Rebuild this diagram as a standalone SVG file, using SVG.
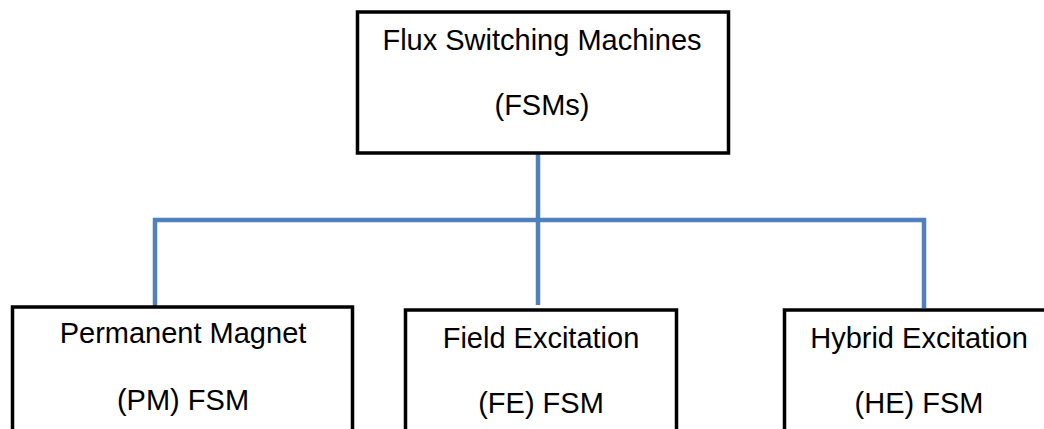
<svg xmlns="http://www.w3.org/2000/svg" width="1044" height="429" viewBox="0 0 1044 429">
<style>
.box{fill:#fff;stroke:#000;stroke-width:3.5}
.lbl{font-family:"Liberation Sans",Arial,sans-serif;font-size:29px;fill:#000;text-anchor:middle}
.con{fill:none;stroke:#4f81bd;stroke-width:4.5}
</style>
<rect width="1044" height="429" fill="#fff"/>
<g id="connectors">
<line class="con" x1="538" y1="153" x2="538" y2="305"/>
<polyline class="con" points="155,307 155,220 924,220 924,308"/>
</g>
<g id="node-fsm">
<rect class="box" x="357.5" y="12" width="371" height="141"/>
<text class="lbl" x="542" y="50">Flux Switching Machines</text>
<text class="lbl" x="542" y="115">(FSMs)</text>
</g>
<g id="node-pm">
<rect class="box" x="12.5" y="307" width="340" height="140"/>
<text class="lbl" x="183" y="343">Permanent Magnet</text>
<text class="lbl" x="183" y="410">(PM) FSM</text>
</g>
<g id="node-fe">
<rect class="box" x="405.5" y="310" width="271" height="140"/>
<text class="lbl" x="541" y="348">Field Excitation</text>
<text class="lbl" x="541" y="413">(FE) FSM</text>
</g>
<g id="node-he">
<rect class="box" x="784.5" y="310" width="280" height="140"/>
<text class="lbl" x="919" y="348">Hybrid Excitation</text>
<text class="lbl" x="919" y="413">(HE) FSM</text>
</g>
</svg>
